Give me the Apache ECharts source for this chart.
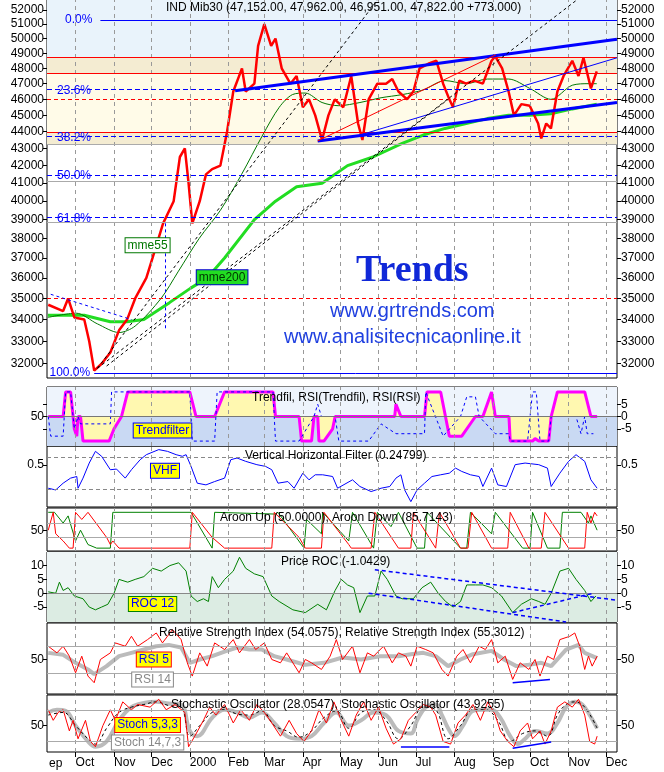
<!DOCTYPE html>
<html><head><meta charset="utf-8">
<script src="https://cdn.jsdelivr.net/npm/echarts@6/dist/echarts.min.js"></script>
<style>html,body{margin:0;padding:0;background:#fff}#c{width:664px;height:772px}</style>
</head><body><div id="c"></div>
<script>
// x values: days since 1999-09-01
const monthDays=[30,61,91,122,153,182,213,243,274,304,335,366,396,427,457];
const monthNames=['Oct','Nov','Dec','2000','Feb','Mar','Apr','May','Jun','Jul','Aug','Sep','Oct','Nov','Dec'];
const priceTicks=[32000,33000,34000,35000,36000,37000,38000,39000,40000,41000,42000,43000,44000,45000,46000,47000,48000,49000,50000,51000,52000];

const priceDays=[8,20,24,29,37,41,45,51,58,65,71.5,78,87,92,100.5,109,114,118,121,124,130,135,140,146.6,152,157,164,167,174,177,182,187.5,191,196,203,208,213,218,223,228.5,233.6,238.7,245.6,252,257.5,261,266,273,280,285,290,297,302,307,314,320.6,326,331,334,339,344.5,351,358,365,368,373.5,378.7,383,389,395.7,402.5,405,409,412.8,418,423,430,435,439,445,449.7];
const priceVals=[34700,34400,35000,34100,34000,33000,31700,32000,32500,33500,34000,35000,36000,37000,38800,40000,42500,43000,41000,38800,40000,41500,41800,42000,44000,46500,48000,46500,47000,49500,51000,49500,50000,48000,47000,47500,45500,46000,45000,43500,45000,46000,45500,47500,44500,43500,46000,47000,47000,47300,46500,46000,46500,48000,48300,48500,47000,46000,45500,47200,47000,47200,47000,48500,48800,48000,46500,45000,45700,45600,44500,43600,44500,44200,46500,47500,48500,47500,48700,46700,47800];
const ma200Days=[7.7,37,58,71.5,85,105.6,122.7,136,150,174,191,208,228.5,249,269.5,293,310,327.5,344.5,361.6,378.7,395.7,412.8,430,449.7];
const ma200Vals=[34200,34200,33900,33900,34000,34800,35500,36000,37000,39000,40000,40800,41000,42000,42500,43300,43800,44200,44500,44800,45000,45000,45100,45400,45700];
const ma55Days=[7.7,30.5,47.6,65,78,98.8,112.5,129.5,146.6,163.7,180.7,194,204.6,215,228.5,242,259,276,293,310,327.5,344.5,361.6,378.7,395.7,412.8,430,443.5,449.7];
const ma55Vals=[34100,34300,33800,33400,33700,35000,36300,38000,39500,41500,43800,45500,46300,46400,45800,45600,45800,46100,46300,46600,47200,47000,47300,47300,46700,46000,46900,47000,47000];

const fibLevels=[51280,46640,43730,41460,39130,31590];
const fibNames=['0.0%','23.6%','38.2%','50.0%','61.8%','100.0%'];
const redLevels=[48740,47700,43960];
const redDashLevels=[45980,35000];
const grayLevels=[43260,41120,38870];

const tfDays=[8,20,22,26,28,29,31,32,34,36,57,61,67,72,122,127,142,150,189,191,210,212,220,222,225,226,230,237,239,287,288,292,311,313,324,331,341,352,358,365,368,379,380,398,400,403,411,413,418,440,445,450];
const tfVals=[0,0,10,10,0,-5,-8,0,0,-10,-10,-5,0,10,10,0,0,10,10,0,0,-10,-10,0,0,-10,-10,-5,0,0,5,0,0,10,10,-8,-8,0,0,10,0,0,-10,-10,-9,-10,-10,0,10,10,0,0];
const rsiTfDays=[8,10,20,22,26,29,32,34,58,59,122,124,142,144,189,191,210,222,225,228,239,242,253,266,276,288,311,312,326,340,345,352,355,368,379,380,394,398,401,404,411,413,433,437,440,442,447];
const rsiTfVals=[0,-8,-8,10,10,-5,0,-3,-3,10,10,-10,-10,10,10,-10,-10,0,5,0,0,-10,-10,-10,-3,-7,-7,10,-8,0,8,8,0,-7,-7,-10,-10,10,10,-10,-10,0,0,-7,0,-7,-7];

const vhfDays=[8,14,20,26,31,32,36,41,46,51,58,63,70,75,82,87,97,104,111,116,119,123,128,135,142,150,155,160,167,176,183,188,193,201,206,213,218,223,229,237,241,253,259,268,276,283,288,292,295,300,305,311,317,324,331,336,341,348,355,358,365,370,377,384,392,403,410,413,420,427,433,440,445,450];
const vhfVals=[0.257,0.239,0.31,0.363,0.38,0.257,0.363,0.521,0.644,0.592,0.451,0.458,0.363,0.451,0.556,0.609,0.662,0.644,0.609,0.592,0.609,0.486,0.31,0.292,0.327,0.363,0.556,0.574,0.539,0.504,0.486,0.451,0.31,0.327,0.257,0.415,0.345,0.398,0.398,0.38,0.257,0.345,0.275,0.222,0.257,0.275,0.363,0.398,0.239,0.116,0.239,0.31,0.38,0.398,0.415,0.468,0.433,0.398,0.38,0.275,0.468,0.292,0.275,0.504,0.521,0.504,0.468,0.275,0.415,0.539,0.609,0.539,0.345,0.257];

const aroonUp=[[8,100],[13,100],[20,70],[24,90],[30,20],[34,50],[40,10],[47,0],[58,0],[60,100],[123,100],[140,0],[142,100],[191,95],[193,100],[214,0],[216,80],[228,40],[229,100],[250,20],[253,100],[270,0],[273,100],[284,60],[290,100],[305,0],[311,0],[313,100],[340,0],[345,0],[348,100],[365,40],[368,100],[390,0],[396,0],[398,100],[410,0],[420,0],[422,100],[437,100],[443,70],[445,90],[450,50]];
const aroonDown=[[8,50],[12,100],[14,40],[20,20],[25,0],[28,0],[30,100],[35,80],[40,100],[55,30],[58,10],[60,20],[65,0],[122,0],[124,100],[140,30],[150,0],[188,0],[190,100],[210,30],[215,0],[228,0],[230,100],[250,10],[252,0],[268,0],[271,100],[290,0],[300,0],[302,100],[320,0],[323,100],[340,0],[346,0],[349,100],[365,0],[378,0],[380,100],[395,0],[405,0],[408,100],[427,0],[440,0],[442,100],[445,70],[448,100],[450,90]];

const rocDays=[8,14,17,20,24,29,36,41,46,51,56,61,65,72,78,85,92,99,106,113,119,123,128,133,137,140,145,150,157,162,167,174,181,188,194,205,215,225,232,239,244,249,254,259,265,271,276,281,288,293,302,309,316,322,328,334,340,345,352,358,365,373,382,389,397,403,408,413,420,427,433,440,445,449];
const rocVals=[0.5,0,4,1,2,-1,-2,-5,-6,-5,-4,0,5,4,5,6,9,8,10,11,8,-1,-3,-2,-3,6,2,5,8,13,9,7,6,-1,-3,-6,-7,-4,-6,1,5,3,2,-7,-1,-1,8,5,-1,-2,-2,2,4,0,-3,-5,-3,3,3,3,2,-1,-7,-4,-2,-3,-4,0,8,9,5,1,-3,-1];

const rsi14=[[8,60],[20,57],[30,45],[40,35],[45,28],[55,40],[65,55],[75,60],[85,65],[95,70],[105,72],[115,68],[122,45],[130,50],[140,55],[150,62],[160,68],[170,65],[180,65],[190,55],[200,50],[215,42],[230,45],[245,53],[260,50],[275,55],[290,55],[300,58],[310,60],[320,55],[330,40],[340,50],[350,58],[365,63],[375,50],[385,40],[395,42],[405,45],[413,40],[425,65],[435,72],[440,60],[450,52]];
const rsi5=[[8,70],[15,60],[20,70],[25,55],[30,30],[35,55],[40,25],[45,15],[50,50],[58,60],[62,75],[70,70],[75,85],[80,70],[88,80],[95,90],[100,75],[108,95],[115,80],[120,45],[124,25],[130,60],[136,40],[142,75],[150,65],[157,80],[162,60],[170,80],[175,65],[182,75],[188,50],[195,45],[200,60],[210,30],[215,50],[220,45],[228,35],[235,55],[240,80],[245,50],[253,70],[259,30],[265,60],[270,55],[278,70],[285,45],[290,60],[296,55],[300,40],[305,70],[312,65],[318,60],[325,35],[330,25],[337,55],[342,65],[348,45],[355,70],[360,65],[365,80],[370,45],[376,55],[382,20],[388,45],[395,35],[400,50],[404,25],[410,55],[415,50],[420,80],[428,85],[432,90],[436,70],[440,35],[443,55],[446,40],[450,55]];

const stochSlow=[[8,75],[15,80],[22,78],[30,50],[40,20],[46,10],[55,20],[65,60],[75,85],[85,93],[95,95],[105,92],[115,90],[122,40],[128,30],[140,65],[150,80],[160,75],[170,65],[180,75],[190,55],[200,30],[210,25],[220,30],[230,55],[240,75],[250,50],[260,60],[270,75],[280,70],[290,40],[300,35],[305,60],[312,85],[320,90],[325,70],[330,45],[335,30],[342,50],[350,78],[358,80],[365,80],[372,65],[380,30],[386,15],[392,25],[400,40],[410,35],[418,55],[425,85],[432,95],[438,90],[444,70],[450,45]];
const stochFast=[[8,80],[12,60],[16,75],[20,80],[25,40],[28,60],[32,25],[38,60],[42,20],[46,10],[52,50],[58,80],[62,60],[68,95],[75,80],[80,90],[90,85],[97,100],[103,80],[110,90],[118,75],[121,10],[126,30],[133,60],[138,85],[143,70],[150,90],[157,55],[163,80],[170,60],[176,90],[182,75],[188,55],[195,30],[202,60],[208,35],[214,20],[220,40],[226,80],[232,55],[238,95],[244,60],[250,30],[256,70],[262,95],[268,60],[274,85],[280,45],[286,15],[292,25],[298,60],[304,75],[310,90],[316,85],[320,70],[326,20],[332,15],[338,55],[344,70],[350,90],[356,60],[362,95],[368,70],[372,40],[378,20],[383,10],[388,40],[394,55],[398,25],[404,40],[408,15],[413,40],[418,85],[424,95],[430,85],[435,100],[440,70],[444,20],[448,15],[450,30]];
const stochSignal=[[8,70],[20,75],[30,50],[40,25],[46,15],[55,45],[65,75],[75,85],[85,90],[95,95],[105,88],[115,85],[122,30],[130,50],[140,75],[150,80],[160,72],[170,70],[180,78],[190,50],[200,40],[210,28],[220,40],[230,65],[240,78],[250,45],[260,75],[270,80],[280,60],[290,25],[300,50],[310,85],[320,80],[330,25],[340,50],[350,80],[360,80],[370,60],[380,20],[390,35],[400,40],[410,30],[418,70],[425,90],[432,95],[440,85],[450,45]];

const zip=(a,b)=>a.map((d,i)=>[d,b[i]]);
const FONT='Liberation Sans';
const panels=[
 {top:0,h:378},{top:387,h:59},{top:446,h:61},{top:508,h:43},{top:552,h:70},{top:623,h:71},{top:695,h:57}
];
const grids=panels.map(p=>({left:47,right:47,top:p.top,height:p.h,show:true,borderColor:'#000',borderWidth:1,backgroundColor:'transparent'}));
const xAxes=panels.map((p,i)=>({type:'value',gridIndex:i,min:7,max:466,
 axisLine:{show:false},splitLine:{show:false},
 axisTick:{show:i===6,customValues:monthDays,length:5,lineStyle:{color:'#000'}},
 axisLabel:{show:i===6,customValues:monthDays,formatter:v=>monthNames[monthDays.indexOf(v)],align:'left',margin:5,color:'#000',fontFamily:FONT,fontSize:12}}));
function yPair(i,min,max,vals,fmtL,fmtR,type){
 const base={type:type||'value',gridIndex:i,min,max,splitLine:{show:false},axisLine:{show:false},
  axisTick:{customValues:vals,length:4,lineStyle:{color:'#000'}}};
 return [Object.assign({},base,{position:'left',axisLabel:{customValues:vals,formatter:fmtL,color:'#000',fontFamily:FONT,fontSize:12,margin:3}}),
  Object.assign({},base,{position:'right',axisLabel:{customValues:vals,formatter:fmtR,color:'#000',fontFamily:FONT,fontSize:12,margin:4}})];
}
const id=v=>String(v);
const yAxes=[].concat(
 yPair(0,31380,52720,priceTicks,id,id,'log'),
 yPair(1,-12,12,[-5,0,5],v=>v===0?'50':'',v=>String(v)),
 yPair(2,0.06,0.7,[0.5],()=> '0.5',()=> '0.5'),
 yPair(3,-8,112,[50],id,id),
 yPair(4,-10.4,14.9,[-5,0,5,10],id,id),
 yPair(5,-2,105,[50],id,id),
 yPair(6,0,108,[50],id,id)
);
const monthML=(extra)=>({symbol:'none',silent:true,label:{show:false},lineStyle:{color:'#999',type:[4,4],width:1},data:monthDays.map(d=>({xAxis:d})).concat(extra||[])});
const tag=(coord,text,bg,border,color,fs)=>({symbol:'rect',symbolSize:0,coord,label:{show:true,position:'inside',formatter:text,backgroundColor:bg,borderColor:border,borderWidth:1,padding:[1,2],color,fontFamily:FONT,fontSize:fs||12}});
const mp=(arr)=>({silent:true,data:arr});
const seg=(a,b,color,width,type)=>[{coord:a,lineStyle:{color,width,type:type||'solid'}},{coord:b}];
const hl=(v,color,type,width,label)=>({yAxis:v,lineStyle:{color,type,width:width||1},label:label?{show:true,formatter:label,position:'insideStartTop',color:'#0000ff',fontFamily:FONT,fontSize:12,distance:[10,-7]}:{show:false}});

const series=[
 {type:'line',xAxisIndex:0,yAxisIndex:0,data:zip(ma200Days,ma200Vals),symbol:'none',lineStyle:{color:'#22dd22',width:3},z:3,
  markPoint:mp([tag([148,36030],'mme200','#22dd22','#0000cc','#003300')]),
  markArea:{silent:true,data:[
   [{yAxis:48740,itemStyle:{color:'#e9f3fb'}},{yAxis:52720}],
   [{yAxis:47700,itemStyle:{color:'#f4ecd2'}},{yAxis:48740}],
   [{yAxis:43960,itemStyle:{color:'#fffbe8'}},{yAxis:47700}],
   [{yAxis:43260,itemStyle:{color:'#f4ecd2'}},{yAxis:43960}]]},
  markLine:{symbol:'none',silent:true,data:
   monthDays.map(d=>({xAxis:d,lineStyle:{color:'#999',type:[4,4],width:1},label:{show:false}}))
   .concat(grayLevels.map(v=>hl(v,'#aaaaaa','solid',1)))
   .concat(redLevels.map(v=>hl(v,'#ff0000','solid',1)))
   .concat(redDashLevels.map(v=>hl(v,'#ff0000',[4,3],1)))
   .concat(fibLevels.slice(1,5).map((v,i)=>hl(v,'#0000ff',[5,3],1,fibNames[i+1])))
   .concat([
     [{coord:[50,fibLevels[0]],lineStyle:{color:'#0000ff',width:1,type:'solid'},label:{show:true,position:'start',distance:8,formatter:fibNames[0],color:'#0000ff',fontFamily:FONT,fontSize:12}},{coord:[466,fibLevels[0]]}],
     [{coord:[45,fibLevels[5]],lineStyle:{color:'#0000ff',width:1,type:'solid'},label:{show:true,position:'start',distance:4,formatter:fibNames[5],color:'#0000ff',fontFamily:FONT,fontSize:12}},{coord:[466,fibLevels[5]]}],
     seg([158.5,46550],[466,49950],'#0000ff',3),
     seg([225,43450],[466,45800],'#0000ff',3),
     seg([259,43800],[466,48700],'#0000ff',1),
     seg([225,43450],[368.4,48900],'#ff0000',1),
     seg([47.6,31800],[272.9,52700],'#000',1,[3,3]),
     seg([47.6,31800],[433.3,52700],'#000',1,[3,3]),
     seg([55,31900],[330,46000],'#000',1,[3,3]),
     seg([10,35200],[75,34000],'#0000ff',1,[3,3]),
     seg([102,38800],[102,33600],'#0000ff',1,[3,3])
   ])}},
 {type:'line',xAxisIndex:0,yAxisIndex:0,data:zip(ma55Days,ma55Vals),symbol:'none',smooth:0.3,lineStyle:{color:'#007700',width:1},z:3,
  markPoint:mp([tag([88,37650],'mme55','#ffffff','#007700','#007700')])},
 {type:'line',xAxisIndex:0,yAxisIndex:0,data:zip(priceDays,priceVals),symbol:'none',lineStyle:{color:'#ff0000',width:2.5},z:4},

 {type:'line',xAxisIndex:1,yAxisIndex:2,data:zip(rsiTfDays,rsiTfVals),symbol:'none',step:false,lineStyle:{color:'#0000ff',width:1,type:[3,3]},z:3,
  markArea:{silent:true,data:[[{yAxis:0,itemStyle:{color:'#eef4fc'}},{yAxis:12}],[{yAxis:-12,itemStyle:{color:'#c9d9f3'}},{yAxis:0}]]},
  markLine:monthML([{yAxis:0,lineStyle:{color:'#777',type:'solid',width:1}}])},
 {type:'line',xAxisIndex:1,yAxisIndex:2,data:zip(tfDays,tfVals),symbol:'none',lineStyle:{color:'#ff00ff',width:3},areaStyle:{color:'#fff8b0',opacity:1,origin:0},z:2,
  markPoint:mp([tag([100,-5.7],'Trendfilter','#ffff00','#0000ff','#0000ff')])},

 {type:'line',xAxisIndex:2,yAxisIndex:4,data:zip(vhfDays,vhfVals),symbol:'none',lineStyle:{color:'#0000ff',width:1},
  markLine:monthML([{yAxis:0.585,lineStyle:{color:'#888',type:[4,3]}},{yAxis:0.25,lineStyle:{color:'#888',type:[4,3]}}]),
  markPoint:mp([tag([102,0.44],'VHF','#ffff00','#0000ff','#0000ff')])},

 {type:'line',xAxisIndex:3,yAxisIndex:6,data:aroonUp,symbol:'none',lineStyle:{color:'#008000',width:1},
  markLine:monthML([{yAxis:70,lineStyle:{color:'#aaa',type:'solid'}},{yAxis:30,lineStyle:{color:'#aaa',type:'solid'}}])},
 {type:'line',xAxisIndex:3,yAxisIndex:6,data:aroonDown,symbol:'none',lineStyle:{color:'#ff0000',width:1}},

 {type:'line',xAxisIndex:4,yAxisIndex:8,data:zip(rocDays,rocVals),symbol:'none',lineStyle:{color:'#008000',width:1},z:3,
  markArea:{silent:true,data:[[{yAxis:0,itemStyle:{color:'#eef5f6'}},{yAxis:14.9}],[{yAxis:-10.4,itemStyle:{color:'#dcece3'}},{yAxis:0}]]},
  markLine:{symbol:'none',silent:true,label:{show:false},data:monthDays.map(d=>({xAxis:d,lineStyle:{color:'#999',type:[4,4]}})).concat([
   {yAxis:0,lineStyle:{color:'#888',type:'solid'}},
   seg([271,8.5],[466,-2.5],'#0000ff',1.5,[4,3]),
   seg([266,0],[425,-10.4],'#0000ff',1.5,[4,3]),
   seg([382,-7],[447,0],'#0000ff',1.5,[4,3])])},
  markPoint:mp([tag([92,-3.9],'ROC 12','#ffff00','#008000','#0000ff')])},

 {type:'line',xAxisIndex:5,yAxisIndex:10,data:rsi14,symbol:'none',lineStyle:{color:'#bbbbbb',width:4},z:2,
  markLine:{symbol:'none',silent:true,label:{show:false},data:monthDays.map(d=>({xAxis:d,lineStyle:{color:'#999',type:[4,4]}})).concat([
   {yAxis:70,lineStyle:{color:'#aaa',type:'solid'}},{yAxis:30,lineStyle:{color:'#aaa',type:'solid'}},
   seg([382,15],[412,20],'#0000ff',1.5)])},
  markPoint:mp([tag([93,50],'RSI 5','#ffff00','#ff0000','#0000ff'),tag([92,20],'RSI 14','#ffffff','#888','#888')])},
 {type:'line',xAxisIndex:5,yAxisIndex:10,data:rsi5,symbol:'none',lineStyle:{color:'#ff0000',width:1},z:3},

 {type:'line',xAxisIndex:6,yAxisIndex:12,data:stochSlow,symbol:'none',smooth:0.4,lineStyle:{color:'#bbbbbb',width:4},z:2,
  markLine:{symbol:'none',silent:true,label:{show:false},data:monthDays.map(d=>({xAxis:d,lineStyle:{color:'#999',type:[4,4]}})).concat([
   {yAxis:80,lineStyle:{color:'#aaa',type:'solid'}},{yAxis:20,lineStyle:{color:'#aaa',type:'solid'}},
   seg([292,10],[331,10],'#0000ff',1.5),seg([382,7],[413,19],'#0000ff',1.5)])},
  markPoint:mp([tag([88,51],'Stoch 5,3,3','#ffff00','#ff0000','#0000ff'),tag([88,18],'Stoch 14,7,3','#ffffff','#888','#888')])},
 {type:'line',xAxisIndex:6,yAxisIndex:12,data:stochSignal,symbol:'none',smooth:0.4,lineStyle:{color:'#000',width:1,type:[3,3]},z:3},
 {type:'line',xAxisIndex:6,yAxisIndex:12,data:stochFast,symbol:'none',lineStyle:{color:'#ff0000',width:1},z:4}
];
const T=(x,y,text,extra)=>({type:'text',left:x,top:y,z:100,style:Object.assign({text,fill:'#000',font:'12px '+FONT},extra||{})});
const chart=echarts.init(document.getElementById('c'),null,{renderer:'canvas'});
chart.setOption({animation:false,grid:grids,xAxis:xAxes,yAxis:yAxes,series,
 graphic:[
  T(166,2,'IND Mib30 (47,152.00, 47,962.00, 46,951.00, 47,822.00 +773.000)'),
  T(252,392,'Trendfil, RSI(Trendfil), RSI(RSI)'),
  T(245,450,'Vertical Horizontal Filter (0.24799)'),
  T(220,512,'Aroon Up (50.0000), Aroon Down (85.7143)'),
  T(281,556,'Price ROC (-1.0429)'),
  T(159,627,'Relative Strength Index (54.0575), Relative Strength Index (55.3012)'),
  T(171,699,'Stochastic Oscillator (28.0547), Stochastic Oscillator (43.9255)'),
  T(49,758,'ep'),
  T(356,252,'Trends',{font:'bold 38px "Liberation Serif"',fill:'#1028d8',shadowColor:'rgba(0,0,60,0.5)',shadowBlur:4,shadowOffsetX:2,shadowOffsetY:2}),
  T(330,301,'www.grtrends.com',{font:'20px '+FONT,fill:'#2040e0',shadowColor:'rgba(0,0,60,0.4)',shadowBlur:3,shadowOffsetX:2,shadowOffsetY:2}),
  T(284,327,'www.analisitecnicaonline.it',{font:'20px '+FONT,fill:'#2040e0',shadowColor:'rgba(0,0,60,0.4)',shadowBlur:3,shadowOffsetX:2,shadowOffsetY:2})
 ]});
</script></body></html>
